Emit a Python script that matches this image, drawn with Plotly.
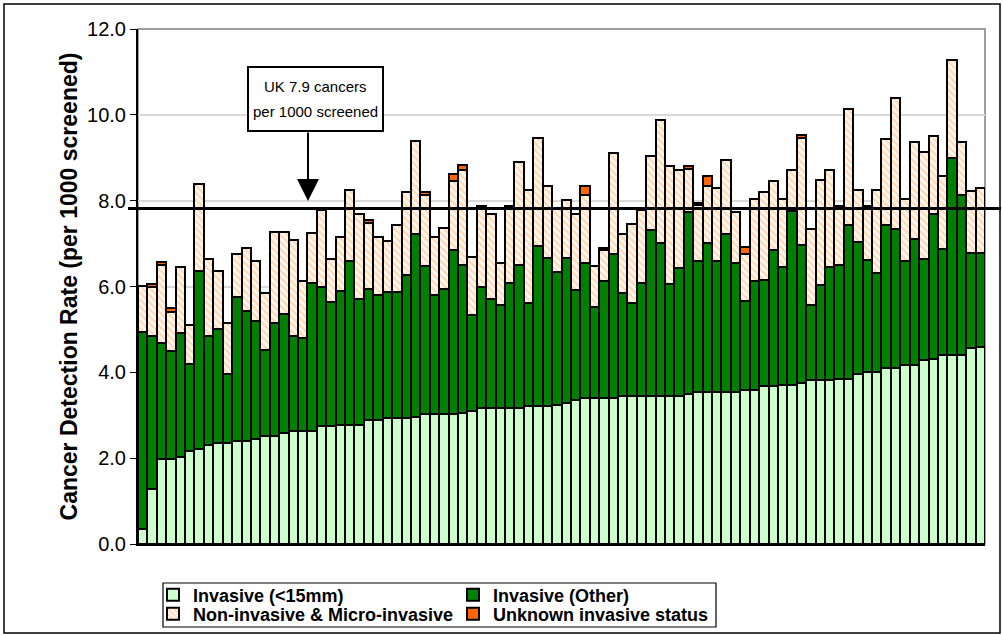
import plotly.graph_objects as go
import numpy as np

# ---- data (cumulative tops of each stacked segment) ----
invasive_lt15 = [0.35, 1.28, 1.98, 1.98, 2.02, 2.16, 2.21, 2.31, 2.35, 2.35,
                 2.39, 2.39, 2.45, 2.51, 2.51, 2.59, 2.63, 2.63, 2.63, 2.74,
                 2.74, 2.77, 2.78, 2.78, 2.88, 2.88, 2.93, 2.93, 2.93, 2.97,
                 3.02, 3.02, 3.02, 3.02, 3.06, 3.11, 3.16, 3.16, 3.16, 3.16,
                 3.16, 3.21, 3.21, 3.21, 3.25, 3.29, 3.35, 3.40, 3.40, 3.40,
                 3.40, 3.44, 3.44, 3.44, 3.44, 3.44, 3.44, 3.44, 3.49, 3.55,
                 3.55, 3.55, 3.55, 3.55, 3.60, 3.60, 3.68, 3.68, 3.70, 3.70,
                 3.76, 3.81, 3.81, 3.81, 3.85, 3.85, 3.95, 4.01, 4.01, 4.10,
                 4.10, 4.18, 4.18, 4.28, 4.32, 4.40, 4.40, 4.40, 4.56, 4.59]
top_invasive_other = [4.94, 4.84, 4.68, 4.49, 4.92, 4.20, 6.37, 4.85, 5.00, 3.96,
                      5.76, 5.43, 5.19, 4.53, 5.14, 5.37, 4.85, 4.81, 6.08, 6.00,
                      5.65, 5.90, 6.59, 5.70, 5.94, 5.80, 5.88, 5.88, 6.27, 7.22,
                      6.47, 5.80, 5.94, 6.84, 6.51, 5.33, 6.00, 5.71, 5.57, 6.09,
                      6.51, 5.61, 6.94, 6.66, 6.33, 6.67, 5.91, 6.55, 5.53, 6.13,
                      6.75, 5.86, 5.62, 6.09, 7.31, 7.02, 6.05, 6.42, 7.73, 6.59,
                      7.02, 6.59, 7.22, 6.55, 5.66, 6.13, 6.14, 6.84, 6.45, 7.77,
                      6.97, 5.56, 6.03, 6.45, 6.51, 7.43, 7.04, 6.61, 6.32, 7.43,
                      7.35, 6.59, 7.11, 6.63, 7.68, 6.88, 8.99, 8.14, 6.78, 6.78]
top_non_invasive = [6.02, 5.98, 6.49, 5.41, 6.45, 5.10, 8.39, 6.65, 6.37, 5.14,
                    6.75, 6.89, 6.60, 5.84, 7.27, 7.27, 7.08, 6.12, 7.25, 7.79,
                    6.65, 7.16, 8.26, 7.68, 7.49, 7.16, 7.07, 7.44, 8.21, 9.40,
                    8.14, 7.16, 7.36, 8.45, 8.72, 6.69, 7.80, 7.68, 6.55, 7.84,
                    8.90, 8.26, 9.46, 8.35, 7.80, 8.02, 7.69, 8.14, 6.47, 6.84,
                    9.10, 7.22, 7.45, 7.78, 9.05, 9.87, 8.80, 8.72, 8.73, 7.90,
                    8.35, 8.29, 8.95, 7.73, 6.75, 8.05, 8.21, 8.45, 8.05, 8.72,
                    9.47, 7.35, 8.49, 8.72, 7.87, 10.14, 8.26, 7.87, 8.26, 9.43,
                    10.40, 8.05, 9.36, 9.13, 9.50, 8.57, 11.28, 9.36, 8.23, 8.29]
unknown_status = [0, 0.09, 0.07, 0.09, 0, 0, 0, 0, 0, 0,
                  0, 0, 0, 0, 0, 0, 0, 0, 0, 0,
                  0, 0, 0, 0, 0.06, 0, 0, 0, 0, 0,
                  0.06, 0, 0, 0.18, 0.10, 0, 0.07, 0, 0, 0.04,
                  0, 0, 0, 0, 0, 0, 0, 0.21, 0, 0.05,
                  0, 0, 0, 0, 0, 0, 0, 0, 0.08, 0.04,
                  0.22, 0, 0, 0, 0.17, 0, 0, 0, 0, 0,
                  0.06, 0, 0, 0, 0, 0, 0, 0, 0, 0,
                  0, 0, 0, 0, 0, 0, 0, 0, 0, 0]
uk_rate = 7.82
units = list(range(len(invasive_lt15)))

seg_small = np.array(invasive_lt15)
seg_other = np.array(top_invasive_other) - seg_small
seg_non = np.array(top_non_invasive) - np.array(top_invasive_other)
seg_unk = np.array(unknown_status)

LINE = dict(color="black", width=2)
fig = go.Figure()
fig.add_trace(go.Bar(x=units, y=seg_small, name="Invasive (<15mm)", legend="legend",
                     marker=dict(color="#CCFFCC", line=LINE)))
fig.add_trace(go.Bar(x=units, y=seg_other, name="Invasive (Other)", legend="legend",
                     marker=dict(color="#008000", line=LINE)))
fig.add_trace(go.Bar(x=units, y=seg_non, name="Non-invasive & Micro-invasive",
                     legend="legend2",
                     marker=dict(color="white", line=LINE,
                                 pattern=dict(shape="\\", fgcolor="#FFB878",
                                              bgcolor="#FFF8F0", size=5, solidity=0.45))))
fig.add_trace(go.Bar(x=units, y=seg_unk, name="Unknown invasive status", legend="legend2",
                     marker=dict(color="#FF6600", line=LINE)))

L, R, T, B = 138, 18, 29, 91
W, H = 1003, 635
pw, ph = W - L - R, H - T - B

def px(xp):
    return (xp - L) / pw

def py(yp):
    return (H - B - yp) / ph

LEG_FONT = dict(family="Arial", size=18, color="black", weight="bold")
def legend_row(ycenter):
    return dict(orientation="h", xref="container", yref="container",
                x=153 / W, y=1 - ycenter / H, xanchor="left", yanchor="middle",
                borderwidth=0, bgcolor="rgba(0,0,0,0)", font=LEG_FONT,
                entrywidth=255, traceorder="normal", itemwidth=30)

fig.update_layout(
    width=W, height=H, barmode="stack", bargap=0,
    margin=dict(l=L, r=R, t=T, b=B, autoexpand=False),
    paper_bgcolor="white", plot_bgcolor="white",
    font=dict(family="Arial", color="black"),
    showlegend=True,
    legend=legend_row(595),
    legend2=legend_row(614),
    xaxis=dict(range=[-0.5, len(units) - 0.5], showticklabels=False, ticks="",
               showgrid=False, zeroline=False, showline=True, linecolor="black",
               linewidth=2, automargin=False),
    yaxis=dict(range=[0, 12], dtick=2, tickformat=".1f", ticks="outside", ticklen=6,
               tickcolor="black", showline=True, linecolor="black", linewidth=2,
               showgrid=True, gridcolor="#D9D9D9", gridwidth=1.5, zeroline=False,
               automargin=False,
               tickfont=dict(family="Arial", size=20, color="black"),
               title=dict(text="Cancer Detection Rate (per 1000 screened)",
                          font=dict(family="Arial", size=23, color="black", weight="bold"),
                          standoff=3)),
)

# plot-area frame (grey), outer chart border and legend frame
fig.add_shape(type="rect", xref="paper", yref="paper", x0=0, x1=1, y0=0, y1=1,
              line=dict(color="#808080", width=1.5), layer="below")
fig.add_shape(type="rect", xref="paper", yref="paper",
              x0=px(4), x1=px(1000), y0=py(633), y1=py(4),
              line=dict(color="black", width=1.5))
fig.add_shape(type="rect", xref="paper", yref="paper",
              x0=px(163), x1=px(716), y0=py(627), y1=py(583),
              line=dict(color="black", width=1.2), fillcolor="white", layer="below")
# UK reference line
fig.add_shape(type="line", xref="paper", yref="y", x0=px(128), x1=px(1001),
              y0=uk_rate, y1=uk_rate, line=dict(color="black", width=3))

# annotation box and arrow
fig.add_shape(type="rect", xref="paper", yref="paper",
              x0=px(248), x1=px(383), y0=py(131), y1=py(67),
              line=dict(color="black", width=2), fillcolor="white")
fig.add_annotation(xref="paper", yref="paper", x=px(315.5), y=py(86),
                   xanchor="center", yanchor="middle",
                   text="UK 7.9 cancers", showarrow=False,
                   font=dict(family="Arial", size=15, color="black"))
fig.add_annotation(xref="paper", yref="paper", x=px(315.5), y=py(111),
                   xanchor="center", yanchor="middle",
                   text="per 1000 screened", showarrow=False,
                   font=dict(family="Arial", size=15, color="black"))
fig.add_annotation(xref="paper", yref="paper", x=px(308), y=py(201), text="",
                   showarrow=True, ax=0, ay=-70, axref="pixel", ayref="pixel",
                   arrowhead=2, arrowsize=2.2, arrowwidth=2, arrowcolor="black")

fig.write_html("out.html", config={"displayModeBar": False},
               post_script="document.body.style.margin='0px';document.body.style.overflow='hidden';")
